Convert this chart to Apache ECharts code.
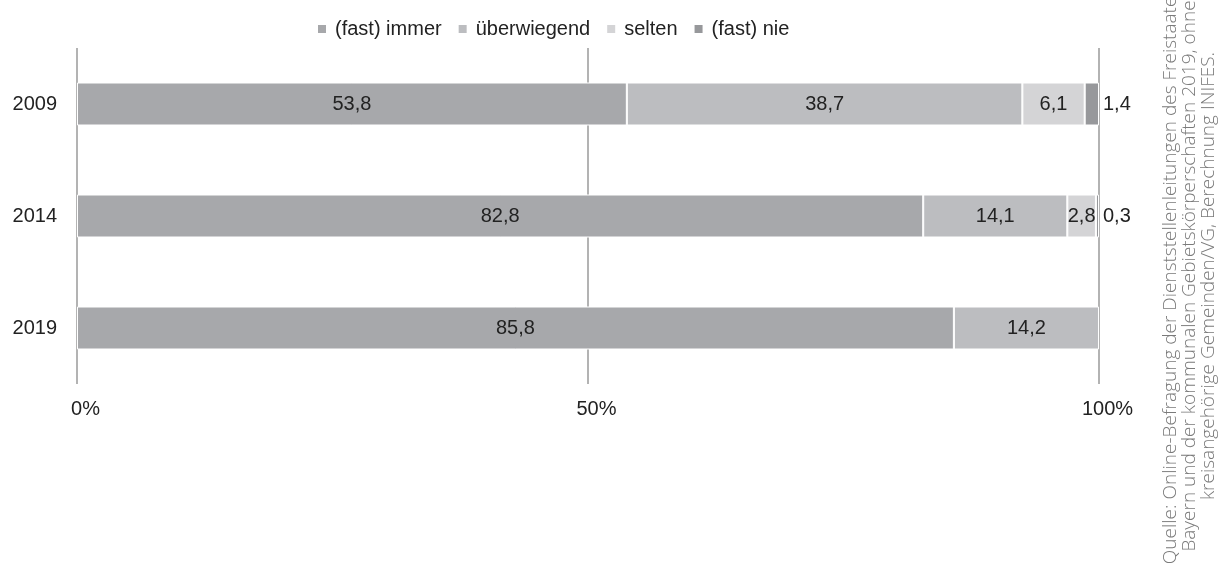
<!DOCTYPE html>
<html>
<head>
<meta charset="utf-8">
<script src="https://cdn.jsdelivr.net/npm/echarts@6/dist/echarts.min.js"></script>
<style>
html,body{margin:0;padding:0;background:#fff;}
#main{width:1227px;height:568px;}
</style>
</head>
<body>
<div id="main"></div>
<script>
const categories = ['2009', '2014', '2019'];
const seriesNames = ['(fast) immer', 'überwiegend', 'selten', '(fast) nie'];
const fastImmer = [53.8, 82.8, 85.8];
const ueberwiegend = [38.7, 14.1, 14.2];
const selten = [6.1, 2.8, null];
const fastNie = [1.4, 0.3, null];
const xTicks = [0, 50, 100];
const sourceLines = [
  'Quelle: Online-Befragung der Dienststellenleitungen des Freistaates',
  'Bayern und der kommunalen Gebietskörperschaften 2019, ohne',
  'kreisangehörige Gemeinden/VG, Berechnung INIFES.'
];

const colors = ['#a7a8ab', '#bcbdc0', '#d4d4d6', '#97989b'];
const fmt = v => String(v).replace('.', ',');
const font = 'Liberation Sans, Arial, sans-serif';

function mk(name, data, idx, labelPos) {
  return {
    name: name,
    type: 'bar',
    stack: 'total',
    data: data,
    barWidth: 43,
    itemStyle: { color: colors[idx], borderColor: '#ffffff', borderWidth: 1 },
    label: {
      show: true,
      position: labelPos,
      distance: 4,
      color: '#222',
      fontSize: 20,
      fontFamily: font,
      formatter: p => p.value == null ? '' : fmt(p.value)
    },
    emphasis: { disabled: true }
  };
}

const chart = echarts.init(document.getElementById('main'), null, { renderer: 'canvas' });
chart.setOption({
  animation: false,
  backgroundColor: '#fff',
  legend: {
    left: 311,
    top: 14,
    itemWidth: 10,
    itemHeight: 10,
    itemGap: 15,
    icon: 'rect',
    textStyle: { fontSize: 20, color: '#222', fontFamily: font, padding: [0, 0, 0, 3] },
    data: seriesNames
  },
  grid: { left: 77, right: 128, top: 48, bottom: 184, containLabel: false },
  xAxis: {
    type: 'value',
    min: 0,
    max: 100,
    interval: 50,
    axisLine: { show: false },
    axisTick: { show: false },
    splitLine: { show: true, lineStyle: { color: '#9a9a9a', width: 1.5 } },
    axisLabel: {
      margin: 15,
      fontSize: 20,
      color: '#222',
      fontFamily: font,
      padding: [0, 0, 0, 17],
      formatter: v => xTicks.indexOf(v) >= 0 ? v + '%' : ''
    }
  },
  yAxis: {
    type: 'category',
    data: categories,
    inverse: true,
    axisLine: { show: false },
    axisTick: { show: false },
    axisLabel: { margin: 20, fontSize: 20, color: '#222', fontFamily: font }
  },
  series: [
    mk(seriesNames[0], fastImmer, 0, 'inside'),
    mk(seriesNames[1], ueberwiegend, 1, 'inside'),
    mk(seriesNames[2], selten, 2, 'inside'),
    mk(seriesNames[3], fastNie, 3, 'right')
  ],
  graphic: [{
    type: 'text',
    x: 1190,
    y: 276,
    rotation: Math.PI / 2,
    style: {
      text: sourceLines.join('\n'),
      fontFamily: 'Open Sans, sans-serif',
      fontWeight: 300,
      fontSize: 19,
      lineHeight: 19,
      fill: '#7a7a7a',
      align: 'center',
      verticalAlign: 'middle'
    }
  }]
});
</script>
</body>
</html>
